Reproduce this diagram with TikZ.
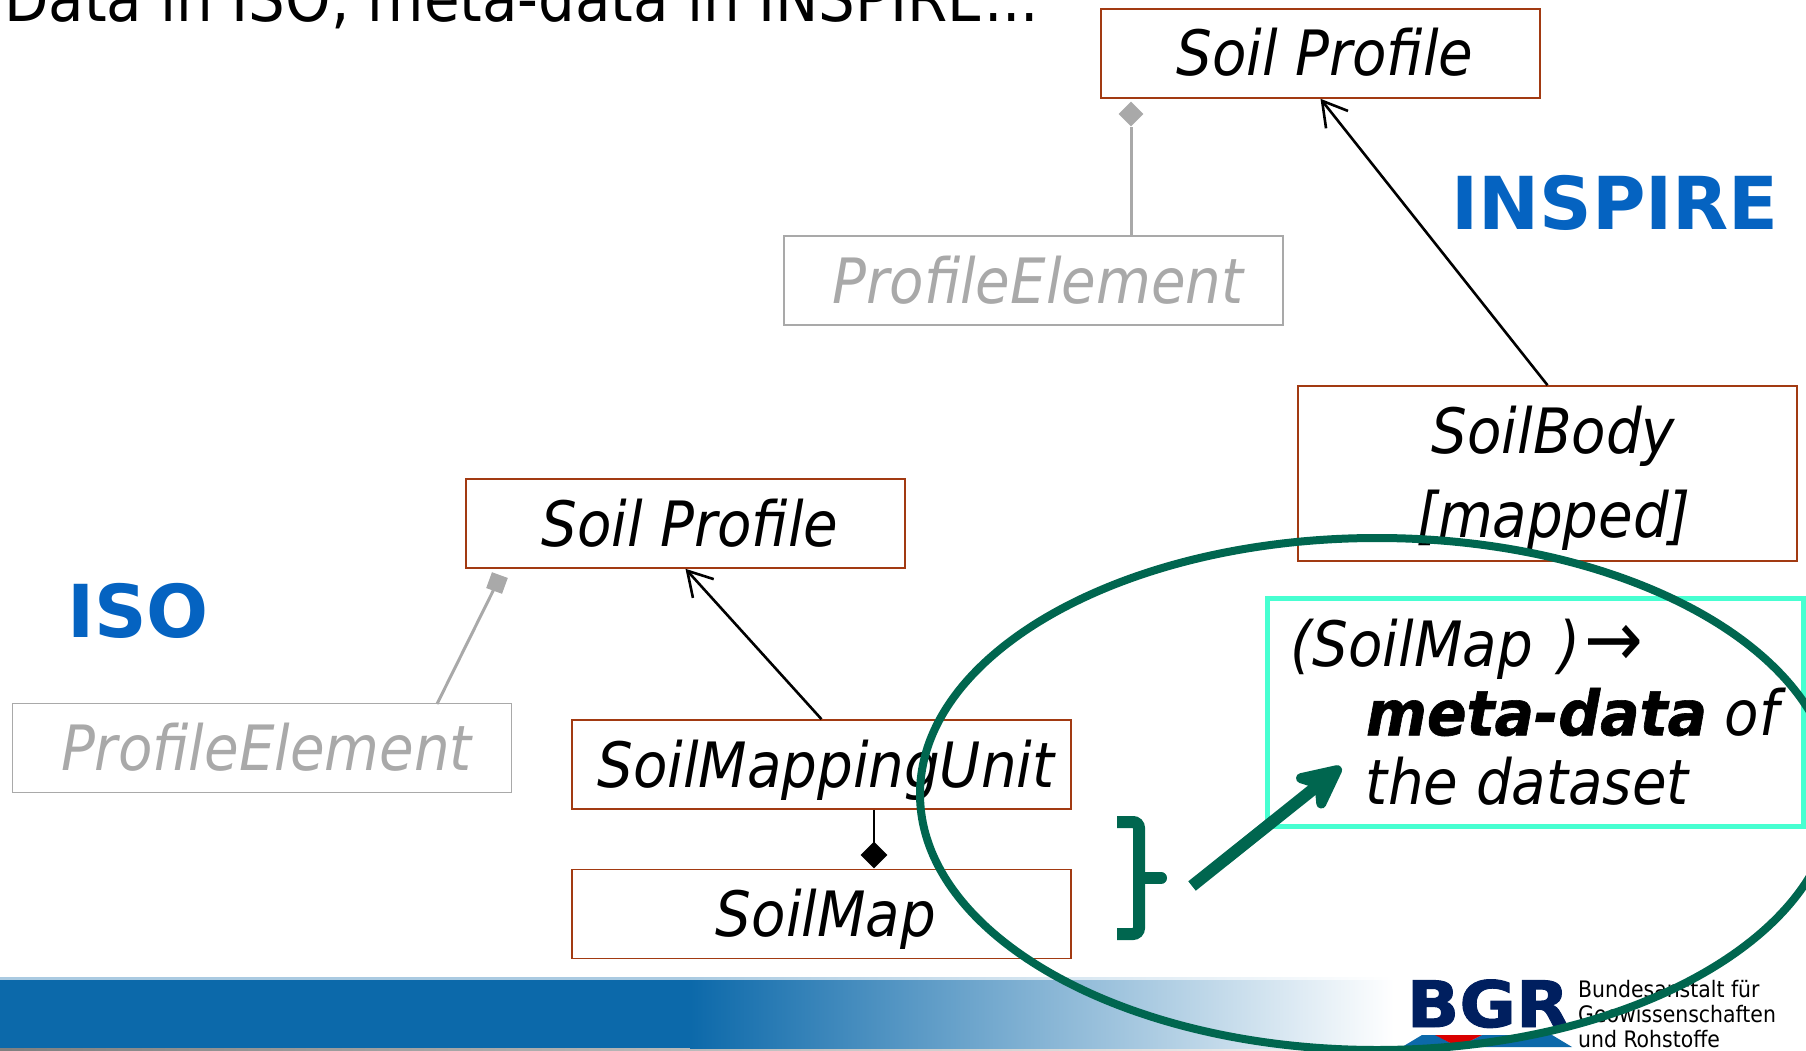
\documentclass[tikz,border=0pt]{standalone}
\usepackage{fontspec}
\setmainfont{DejaVu Sans Condensed}
\newfontfamily\wordfont{DejaVu Sans}
\newfontfamily\metafont[BoldItalicFeatures={FakeBold=1,FakeStretch=1.04}]{DejaVu Sans Condensed}
\newfontface\bgrfont[FakeStretch=1.08,FakeBold=1.5]{DejaVu Sans Bold}
\usetikzlibrary{arrows.meta,shapes.geometric}
\definecolor{boxred}{HTML}{A23A12}
\definecolor{elemgray}{HTML}{A9A9A9}
\definecolor{labelblue}{HTML}{0563C1}
\definecolor{ringgreen}{HTML}{00664F}
\definecolor{metacyan}{HTML}{47FFD1}
\definecolor{barblue}{HTML}{0C69AA}
\definecolor{bgrnavy}{HTML}{001F5F}
\tikzset{
  classbox/.style={draw=boxred,line width=1.6pt,minimum width=#1,minimum height=89pt,inner sep=0pt,
    font=\fontsize{62.5}{84}\selectfont\itshape,text height=50pt,text depth=5pt,
    execute at begin node=\hspace*{9pt}},
  classbox/.default=499pt,
  elembox/.style={classbox,draw=elemgray,text=elemgray},
  isa/.style={line width=2.6pt,-{Straight Barb[length=24pt,width=28pt,line width=2.6pt]}},
  graydia/.style={diamond,fill=elemgray,inner sep=0pt,minimum size=25pt},
  bigword/.style={font=\wordfont\fontsize{73}{73}\selectfont\bfseries,text=labelblue},
}
\begin{document}
\begin{tikzpicture}[x=1pt,y=-1pt]
\useasboundingbox (0,0) rectangle (1806,1051);
% footer
\shade [left color=gray,right color=white,shading angle=90] (0,1048) rectangle (1500,1051);
\fill [barblue!35] (0,977) rectangle (690,980);
\shade [left color=barblue!35,right color=white,shading angle=90] (690,977) rectangle (1394,980);
\fill [barblue] (0,980) rectangle (690,1048);
\shade [left color=barblue,right color=white,shading angle=90] (690,980) rectangle (1394,1048);
\node [anchor=base,inner sep=0pt,text=bgrnavy,font=\bgrfont\fontsize{64}{64}\selectfont] (bgr) at (1488,1027) {BGR};
\fill [barblue] (1402,1047)--(1422,1035)--(1436,1035)--(1458,1047)--cycle;
\fill [barblue] (1458,1047)--(1482,1035)--(1552,1035)--(1572,1047)--cycle;
\fill [red!85!black] (1435,1035)--(1482,1035)--(1458,1047)--cycle;
\node [anchor=base west,inner sep=0pt,align=left,font=\fontsize{22.7}{25}\selectfont] (bgrname) at (1578,1047)
  {Bundesanstalt für\\Geowissenschaften\\und Rohstoffe};
% title, cut by the page
\node [anchor=base west,inner sep=0pt,font=\fontsize{64.3}{64}\selectfont] (title) at (4,22) {Data in ISO, meta-data in INSPIRE...};
% INSPIRE side
\node [classbox=439pt] (profiletop) at (1320.5,53.5) {Soil Profile};
\node [elembox] (elemtop) at (1033.5,280.5) {ProfileElement};
\node [draw=boxred,line width=1.6pt,minimum width=499pt,minimum height=175pt,inner sep=0pt,align=center,
  font=\fontsize{62.5}{84}\selectfont\itshape] (body) at (1547.5,473.5)
  {\hspace*{12pt}\rule{0pt}{57pt}SoilBody\\\hspace*{12pt}[mapped]};
\node [bigword] (inspire) at (1615,203) {INSPIRE};
\draw [isa] (body.north)--(profiletop.south);
\node [graydia] (diatop) at (1131,114) {};
\draw [elemgray,line width=3pt] (diatop.south |- elemtop.north)--(diatop.south);
% ISO side
\node [classbox=439pt] (profilelow) at (685.5,523.5) {Soil Profile};
\node [elembox] (elemlow) at (262,748) {ProfileElement};
\node [classbox] (unit) at (821.5,764.5) {SoilMappingUnit};
\node [classbox] (map) at (821.5,914) {SoilMap};
\node [bigword] (iso) at (138,611) {ISO};
\draw [isa] (unit.north)--(profilelow.south);
\node [graydia,minimum size=24pt,rotate=25] (dialow) at (497,583) {};
\coordinate (elemlowtop) at (437,704);
\draw [elemgray,line width=3pt] (elemlowtop)--(dialow.center);
\node [diamond,fill=black,inner sep=0pt,minimum size=27pt] (diamap) at (874,855) {};
\draw [line width=2.6pt] (unit.south -| diamap)--(diamap.center);
% meta-data box and ring
\node [draw=metacyan,line width=5pt,minimum width=536pt,minimum height=228pt,inner sep=0pt,align=left,
  font=\metafont\fontsize{62.5}{69}\selectfont\itshape] (meta) at (1535,712)
  {(SoilMap\hspace{26pt})\hspace{4pt}{\fontsize{78}{69}\selectfont →}\\\hspace*{75pt}\textbf{meta-data} of\\\hspace*{75pt}the dataset};
\draw [ringgreen,line width=8pt] (1377,794) ellipse [x radius=457,y radius=256];
\draw [ringgreen,line width=12pt,rounded corners=6pt] (1117,822)--(1139,822)--(1139,934)--(1117,934);
\draw [ringgreen,line width=12pt,line cap=round] (1139,878)--(1161,878);
\coordinate (bracetip) at (1192,886);
\coordinate (metatip) at (1341,767);
\draw [ringgreen,line width=12pt,-{Stealth[length=58pt,width=56pt,inset=18pt,round]}] (bracetip)--(metatip);
\end{tikzpicture}
\end{document}
